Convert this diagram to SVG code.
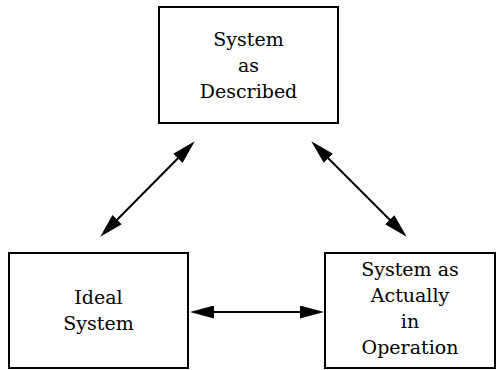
<svg xmlns="http://www.w3.org/2000/svg" width="497" height="370" viewBox="0 0 497 370">
  <style>
    .box { fill: #ffffff; stroke: #000000; stroke-width: 2; }
    .label { font-family: "DejaVu Serif", serif; font-size: 19px; fill: #000000; text-anchor: middle; }
    .link { fill: none; stroke: #000000; stroke-width: 2; }
  </style>
  <defs>
    <marker id="arrow" viewBox="0 0 24 13" markerWidth="24" markerHeight="13" refX="11" refY="6.5" markerUnits="userSpaceOnUse" orient="auto-start-reverse">
      <path d="M0,0 L24,6.5 L0,13 Z" fill="#000000"/>
    </marker>
  </defs>
  <rect width="497" height="370" fill="#ffffff"/>

  <g id="described">
    <rect class="box" x="159" y="7" width="179" height="116"/>
    <text class="label" x="248.5" y="46">System</text>
    <text class="label" x="248.5" y="72">as</text>
    <text class="label" x="248.5" y="98">Described</text>
  </g>

  <g id="ideal">
    <rect class="box" x="9" y="253" width="179" height="115"/>
    <text class="label" x="98.5" y="304">Ideal</text>
    <text class="label" x="98.5" y="330">System</text>
  </g>

  <g id="operation">
    <rect class="box" x="325" y="253" width="170" height="115"/>
    <text class="label" x="410" y="276">System as</text>
    <text class="label" x="410" y="302">Actually</text>
    <text class="label" x="410" y="328">in</text>
    <text class="label" x="410" y="354">Operation</text>
  </g>

  <g id="connectors">
    <line class="link" x1="185.6" y1="150.5" x2="109.4" y2="227.5" marker-start="url(#arrow)" marker-end="url(#arrow)"/>
    <line class="link" x1="320.5" y1="150.5" x2="397.5" y2="227.5" marker-start="url(#arrow)" marker-end="url(#arrow)"/>
    <line class="link" x1="203" y1="312" x2="311" y2="312" marker-start="url(#arrow)" marker-end="url(#arrow)"/>
  </g>
</svg>
